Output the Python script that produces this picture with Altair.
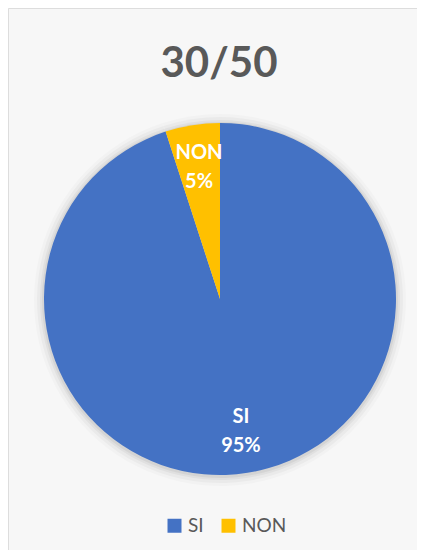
import altair as alt
import pandas as pd

categories = ["SI", "NON"]
values = [95, 5]
labels = ["SI\n95%", "NON\n5%"]
colors = ["#4472C4", "#FFC000"]
title_text = "30/50"

df = pd.DataFrame({"cat": categories, "value": values, "label": labels, "order": [0, 1]})

W, H = 409, 542
CX, CY, R = 212, 291, 176

base = alt.Chart(df).encode(
    theta=alt.Theta("value:Q", stack=True),
    order=alt.Order("order:Q"),
)

shadows = [
    base.mark_arc(radius=R + r, color="#000000", opacity=o).encode(
        x=alt.value(CX), y=alt.value(CY + 1)
    )
    for r, o in [(10, 0.02), (7, 0.03), (4, 0.04), (2, 0.05)]
]

pie = base.mark_arc(radius=R, stroke=None).encode(
    x=alt.value(CX),
    y=alt.value(CY),
    color=alt.Color(
        "cat:N",
        scale=alt.Scale(domain=categories, range=colors),
        legend=alt.Legend(
            title=None,
            orient="none",
            legendX=157,
            legendY=508,
            direction="horizontal",
            symbolType="square",
            symbolSize=196,
            symbolStrokeWidth=0,
            labelFont="Lato",
            labelFontSize=19,
            labelColor="#595959",
            labelOffset=4,
            columnPadding=15,
            padding=0,
        ),
    ),
)

text = base.mark_text(
    radius=134,
    font="Lato",
    fontSize=20,
    fontWeight="bold",
    color="white",
    lineBreak="\n",
    lineHeight=29,
    baseline="middle",
    align="center",
    dy=-14,
).encode(x=alt.value(CX), y=alt.value(CY), text="label:N")

title = alt.Chart(pd.DataFrame({"t": [title_text]})).mark_text(
    font="Lato",
    fontSize=42,
    fontWeight="bold",
    color="#595959",
    baseline="alphabetic",
    align="center",
).encode(x=alt.value(211), y=alt.value(69), text="t:N")

chart = (
    alt.layer(*shadows, pie, text, title)
    .properties(width=W, height=H, padding=0, autosize=alt.AutoSizeParams(type="none"))
    .configure_view(stroke="#d9d9d9", strokeWidth=1)
    .configure(background="#f7f7f7")
)

chart.save("out.html", embed_options={"renderer": "svg", "actions": False})
